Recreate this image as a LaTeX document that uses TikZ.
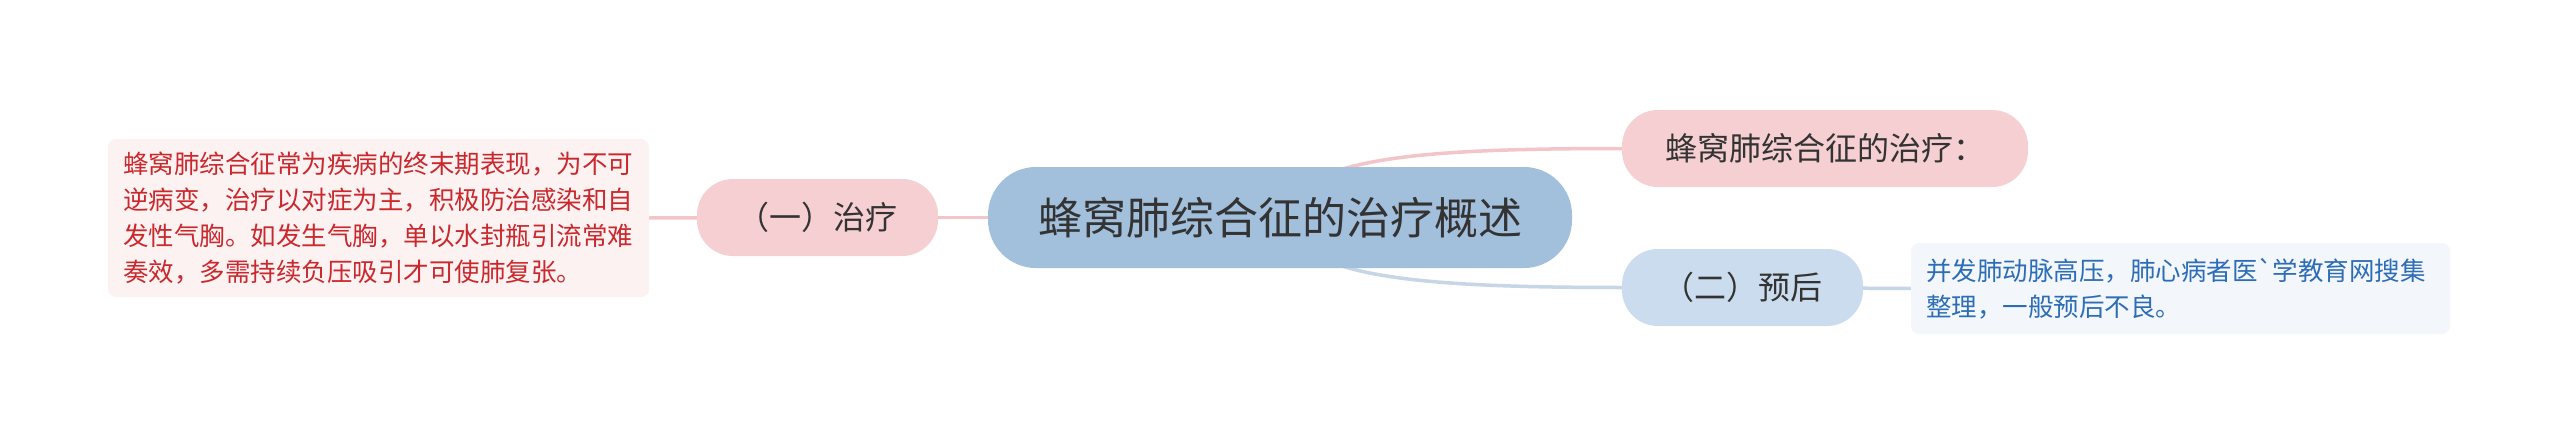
\documentclass[tikz,border=0pt]{standalone}
\usepackage{fontspec}
\setmainfont{Noto Sans CJK SC}[Ligatures=TeXOff]
\usetikzlibrary{backgrounds}
\definecolor{rootfill}{HTML}{A2BFDB}
\definecolor{pinkfill}{HTML}{F5CFD1}
\definecolor{bluefill}{HTML}{CADCED}
\definecolor{redleaffill}{HTML}{FCF2F2}
\definecolor{redleaftext}{HTML}{C9282D}
\definecolor{blueleaffill}{HTML}{F3F7FC}
\definecolor{blueleaftext}{HTML}{2D6DB5}
\definecolor{pinkline}{HTML}{F3C5C9}
\definecolor{blueline}{HTML}{C6D6E6}
\definecolor{darktext}{HTML}{333333}
\begin{document}
\begin{tikzpicture}[x=1pt,y=-1pt,
  rootbox/.style={fill=rootfill, rounded corners=48pt, minimum width=584pt, minimum height=101pt, inner sep=0pt, text=darktext, font=\fontsize{44}{52}\selectfont},
  topicbox/.style={rounded corners=36pt, minimum height=77pt, inner sep=0pt, text=darktext, font=\fontsize{32}{40}\selectfont},
  leafbox/.style={rounded corners=8pt, inner xsep=15pt, inner ysep=0pt, align=left, font=\fontsize{25.5}{36}\selectfont},
  pinkconn/.style={draw=pinkline, line width=3.5pt},
  blueconn/.style={draw=blueline, line width=3.5pt}]
\useasboundingbox (0,0) rectangle (2560,444);

\node[rootbox] (root) at (1280,217.5) {蜂窝肺综合征的治疗概述};
\node[topicbox, fill=pinkfill, minimum width=241pt] (zl) at (817.5,217.5) {（一）治疗};
\node[topicbox, fill=pinkfill, minimum width=406pt] (zt) at (1825,148.5) {蜂窝肺综合征的治疗：};
\node[topicbox, fill=bluefill, minimum width=241pt] (yh) at (1742.5,287.5) {（二）预后};
\node[leafbox, fill=redleaffill, text=redleaftext, text width=511pt, minimum height=158pt] (lr) at (378.5,218)
  {蜂窝肺综合征常为疾病的终末期表现，为不可\\逆病变，治疗以对症为主，积极防治感染和自\\发性气胸。如发生气胸，单以水封瓶引流常难\\奏效，多需持续负压吸引才可使肺复张。};
\node[leafbox, fill=blueleaffill, text=blueleaftext, text width=509pt, minimum height=91pt] (lb) at (2180.5,288.5)
  {并发肺动脉高压，肺心病者医`学教育网搜集\\整理，一般预后不良。};

\begin{pgfonlayer}{background}
  \fill[white] (0,0) rectangle (2560,444);
  \draw[pinkconn] (root.center) -- (zl.center);
  \draw[pinkconn] (zl.center) -- (lr.east);
  \draw[pinkconn] (root.center) .. controls (1300,160) and (1400,148.5) .. (zt.west);
  \draw[blueconn] (root.center) .. controls (1300,275) and (1400,287.5) .. (yh.west);
  \draw[blueconn] (yh.center) -- (lb.west);
\end{pgfonlayer}
\end{tikzpicture}
\end{document}
